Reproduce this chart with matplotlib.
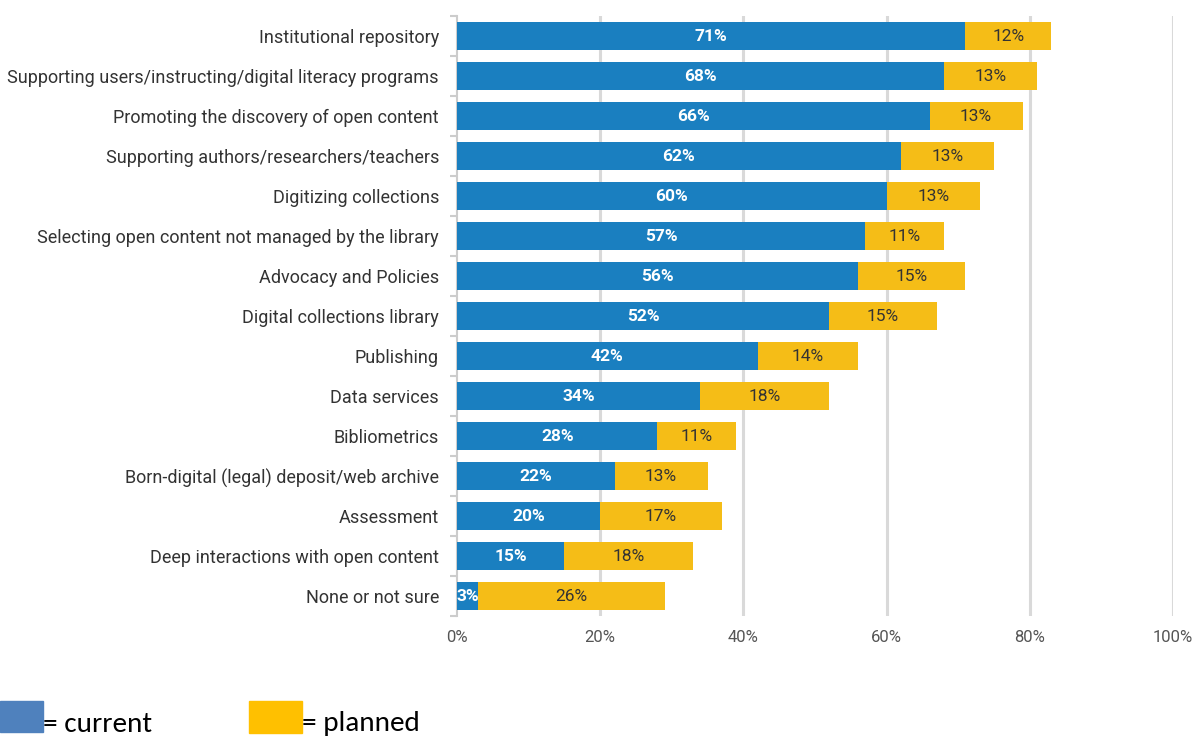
import matplotlib
matplotlib.use("Agg")
import matplotlib.pyplot as plt
from matplotlib.patches import Rectangle
import numpy as np

categories = [
    "Institutional repository",
    "Supporting users/instructing/digital literacy programs",
    "Promoting the discovery of open content",
    "Supporting authors/researchers/teachers",
    "Digitizing collections",
    "Selecting open content not managed by the library",
    "Advocacy and Policies",
    "Digital collections library",
    "Publishing",
    "Data services",
    "Bibliometrics",
    "Born-digital (legal) deposit/web archive",
    "Assessment",
    "Deep interactions with open content",
    "None or not sure",
]
current = [71, 68, 66, 62, 60, 57, 56, 52, 42, 34, 28, 22, 20, 15, 3]
planned = [12, 13, 13, 13, 13, 11, 15, 15, 14, 18, 11, 13, 17, 18, 26]
x_ticks = [0, 20, 40, 60, 80, 100]

BLUE = "#1a7fc0"
YELLOW = "#f5bd17"
GRID = "#d9d9d9"

label_font = ["Roboto", "DejaVu Sans"]
value_font = ["Liberation Sans Narrow", "Roboto", "DejaVu Sans"]
legend_font = ["Carlito", "Open Sans", "DejaVu Sans"]

fig = plt.figure(figsize=(11.96, 7.38), dpi=100)
ax = fig.add_axes([0.3821, 0.1653, 0.5987, 0.813])

y = np.arange(len(categories))
ax.barh(y, current, height=0.7, color=BLUE, zorder=3)
ax.barh(y, planned, left=current, height=0.7, color=YELLOW, zorder=3)

for yi, c, p in zip(y, current, planned):
    ax.text(c / 2, yi, f"{c}%", ha="center", va="center", color="white",
            fontsize=12.5, fontweight="bold", family=value_font, zorder=4)
    ax.text(c + p / 2, yi, f"{p}%", ha="center", va="center", color="#333333",
            fontsize=12.5, family=value_font, zorder=4)

ax.set_xlim(0, 100)
ax.set_ylim(len(categories) - 0.5, -0.5)

ax.set_xticks(x_ticks)
ax.set_xticklabels([f"{t}%" for t in x_ticks], family=label_font,
                   fontsize=12, color="#555555")
ax.tick_params(axis="x", length=0, pad=10)
for t in x_ticks[1:]:
    ax.axvline(t, color=GRID, lw=2.2, zorder=1)

ax.set_yticks(y)
ax.set_yticklabels(categories, family=label_font, fontsize=13, color="#333333")
ax.tick_params(axis="y", which="major", length=0, pad=13)
ax.set_yticks(np.arange(-0.5, len(categories)), minor=True)
ax.tick_params(axis="y", which="minor", length=5, width=1.5, color="#cccccc")

for side in ["top", "right", "bottom"]:
    ax.spines[side].set_visible(False)
ax.spines["left"].set_color("#cccccc")
ax.spines["left"].set_linewidth(1.5)

# legend swatches and captions below the plot
fig.patches.append(Rectangle((0 / 1196, 1 - 732 / 738), 43 / 1196, 31 / 738,
                             transform=fig.transFigure, color="#4f81bd"))
fig.text(43 / 1196, 1 - 724 / 738, "= current", fontsize=21, family=legend_font,
         va="center", ha="left", color="black")
fig.patches.append(Rectangle((249 / 1196, 1 - 733 / 738), 53 / 1196, 32 / 738,
                             transform=fig.transFigure, color="#ffc000"))
fig.text(302 / 1196, 1 - 724 / 738, "= planned", fontsize=21, family=legend_font,
         va="center", ha="left", color="black")

fig.savefig("out.png", dpi=100)
